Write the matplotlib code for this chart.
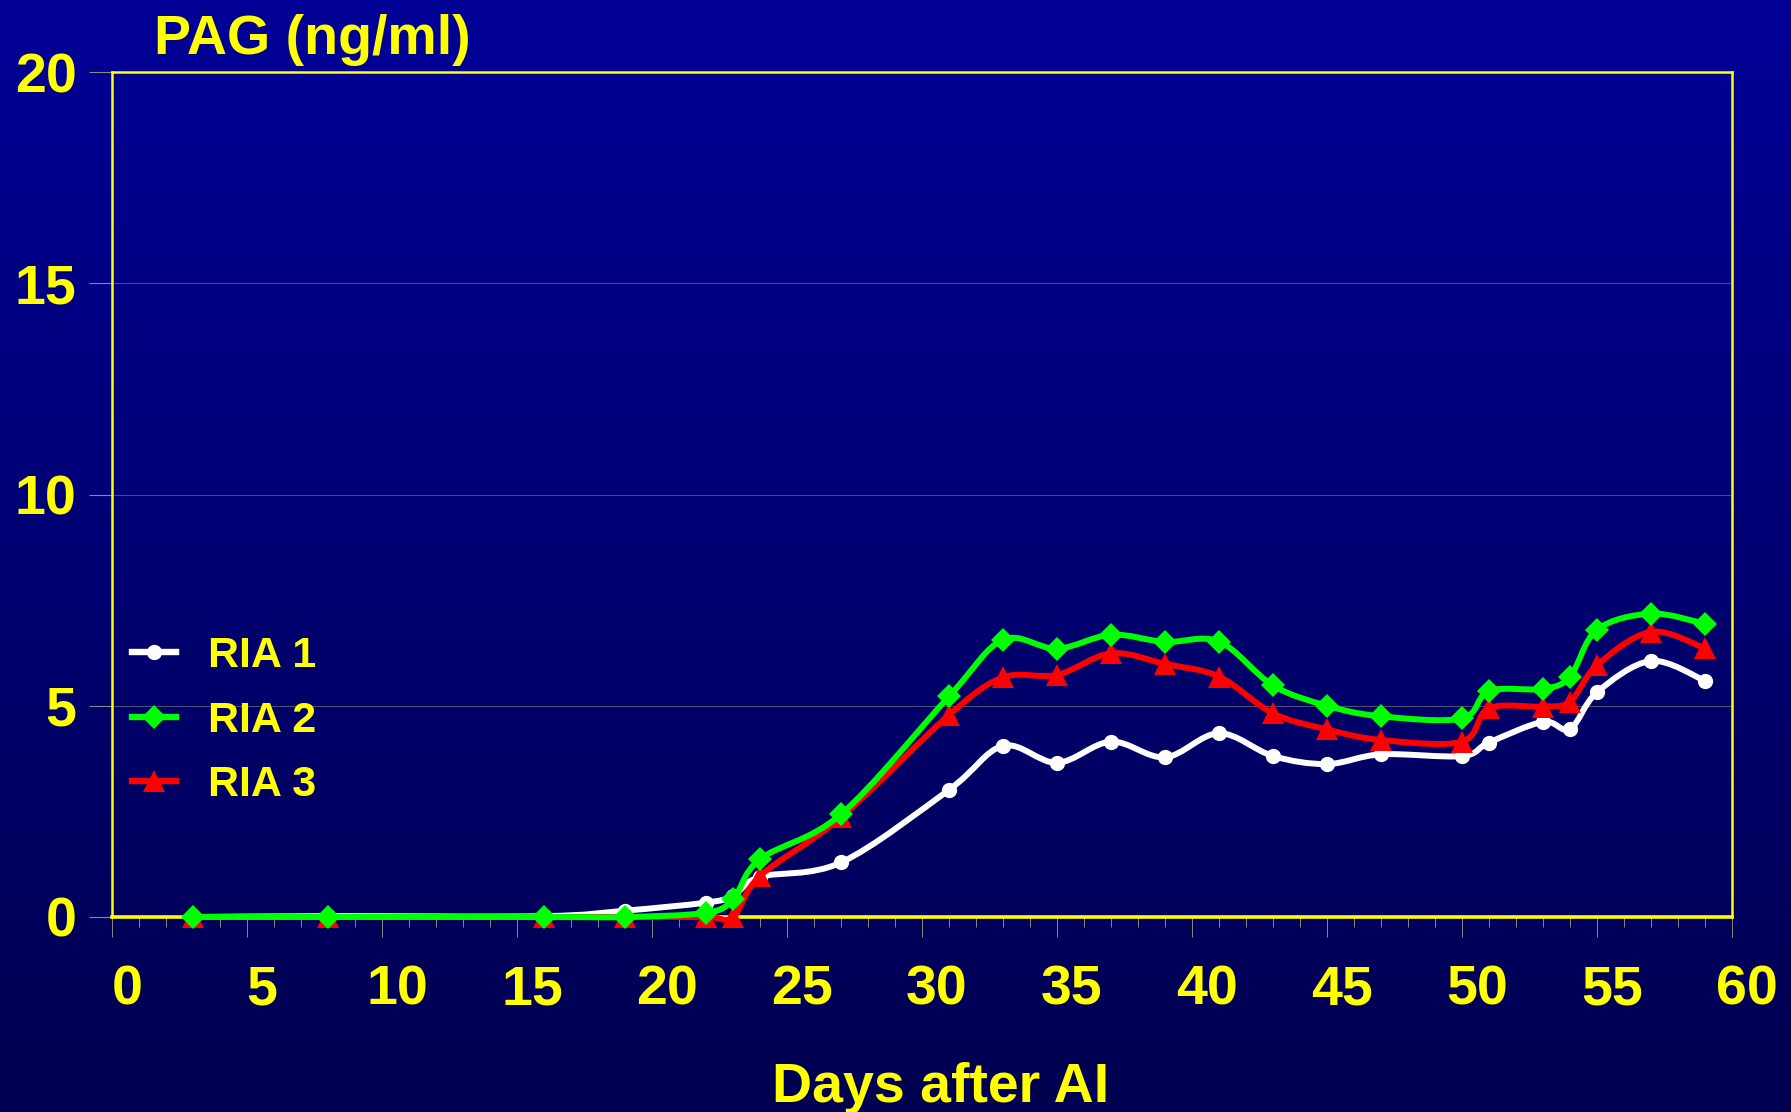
import numpy as np
import matplotlib

matplotlib.use("Agg")

import matplotlib.pyplot as plt  # noqa: E402
import matplotlib.transforms as mtransforms  # noqa: E402
from matplotlib.lines import Line2D  # noqa: E402
from matplotlib.patches import PathPatch  # noqa: E402
from matplotlib.path import Path  # noqa: E402
from matplotlib.ticker import MultipleLocator  # noqa: E402

plt.rcParams["font.family"] = ["Liberation Sans", "DejaVu Sans"]
plt.rcParams["font.weight"] = "bold"

# Days after AI at which each sample was taken (same for all three assays).
days = [3, 8, 16, 19, 22, 23, 24, 27, 31, 33, 35, 37, 39, 41, 43, 45, 47,
        50, 51, 53, 54, 55, 57, 59]
ria1 = [0.0, 0.02, 0.02, 0.15, 0.34, 0.50, 0.95, 1.29, 3.01, 4.05, 3.65, 4.15,
        3.78, 4.35, 3.81, 3.62, 3.85, 3.81, 4.13, 4.62, 4.45, 5.32, 6.06, 5.59]
ria2 = [0.0, 0.0, 0.0, 0.0, 0.10, 0.42, 1.37, 2.43, 5.22, 6.56, 6.35, 6.68,
        6.51, 6.52, 5.48, 5.00, 4.75, 4.70, 5.35, 5.40, 5.69, 6.80, 7.18, 6.94]
ria3 = [0.0, 0.0, 0.0, 0.0, 0.0, 0.0, 0.97, 2.36, 4.78, 5.67, 5.73, 6.24,
        5.99, 5.69, 4.82, 4.44, 4.19, 4.15, 4.94, 4.98, 5.10, 5.96, 6.75, 6.36]

YELLOW = "#FFFF00"
TICK_GREY = "#8a8a8a"

# (values, label, colour, marker, marker size, z-order) - green sits on top.
series = [
    (ria1, "RIA 1", "#FFFFFF", "o", 11, 3),
    (ria2, "RIA 2", "#00FF00", "D", 12, 5),
    (ria3, "RIA 3", "#FF0000", "^", 15.5, 4),
]


def smooth_path(x, y):
    """Excel-style smoothed line: Catmull-Rom segments as cubic Beziers."""
    pts = np.column_stack([x, y]).astype(float)
    n = len(pts)
    verts, codes = [pts[0]], [Path.MOVETO]
    for i in range(n - 1):
        p0, p1 = pts[max(i - 1, 0)], pts[i]
        p2, p3 = pts[i + 1], pts[min(i + 2, n - 1)]
        verts += [p1 + (p2 - p0) / 6, p2 - (p3 - p1) / 6, p2]
        codes += [Path.CURVE4] * 3
    return Path(verts, codes)


fig = plt.figure(figsize=(17.91, 11.12), dpi=100)

# slide-style vertical blue gradient behind everything
bg = fig.add_axes([0, 0, 1, 1], zorder=-10)
grad = np.linspace(0, 1, 256)[:, None]
bg.imshow(grad, aspect="auto", extent=(0, 1, 0, 1), origin="upper",
          cmap=matplotlib.colors.LinearSegmentedColormap.from_list(
              "slide", ["#000096", "#000050"]))
bg.set_axis_off()

ax = fig.add_axes([0.06254, 0.17536, 0.90452, 0.75989])
ax.set_facecolor("none")
ax.set_xlim(0, 60)
ax.set_ylim(0, 20)

handles = []
for vals, label, colour, marker, ms, z in series:
    ax.add_patch(PathPatch(smooth_path(days, vals), fill=False, edgecolor=colour,
                           lw=4.3, zorder=z, clip_on=False, capstyle="round"))
    ax.plot(days, vals, ls="none", marker=marker, ms=ms, color=colour,
            mec=colour, mew=0, zorder=z + 0.5, clip_on=False)
    handles.append(Line2D([], [], color=colour, lw=4.6, marker=marker, ms=ms,
                          mew=0, label=label))

for side in ("left", "right", "top"):
    ax.spines[side].set_color(YELLOW)
    ax.spines[side].set_linewidth(1.8)
ax.spines["bottom"].set_color(YELLOW)
ax.spines["bottom"].set_linewidth(2.6)

ax.set_yticks([0, 5, 10, 15, 20])
ax.set_xticks(range(0, 61, 5))
ax.xaxis.set_minor_locator(MultipleLocator(1))
ax.grid(True, axis="y", color="#4c4c72", lw=0.8, zorder=1)
ax.tick_params(axis="y", direction="out", length=16.5, width=0.8, color=TICK_GREY,
               pad=9, labelsize=40, labelcolor=YELLOW)
ax.tick_params(axis="x", which="major", direction="out", length=14.4, width=0.7,
               color=TICK_GREY, pad=20, labelsize=40, labelcolor=YELLOW)
ax.tick_params(axis="x", which="minor", direction="out", length=7.2, width=0.7,
               color=TICK_GREY)

shift = mtransforms.ScaledTranslation(0.15, 0, fig.dpi_scale_trans)
for lab in ax.get_xticklabels():
    lab.set_transform(lab.get_transform() + shift)

fig.text(0.086, 0.951, "PAG (ng/ml)", color=YELLOW, fontsize=40,
         fontweight="bold", ha="left", va="baseline")
fig.text(0.525, 0.009, "Days after AI", color=YELLOW, fontsize=40,
         fontweight="bold", ha="center", va="baseline")

leg = ax.legend(handles=handles, loc="center left",
                bbox_to_anchor=(0.0737, 0.352), bbox_transform=fig.transFigure,
                frameon=False, fontsize=31, handlelength=1.02,
                handletextpad=0.74, labelspacing=0.56, borderpad=0,
                borderaxespad=0)
for txt in leg.get_texts():
    txt.set_color(YELLOW)
    txt.set_fontweight("bold")

fig.savefig("out.png", dpi=100)
